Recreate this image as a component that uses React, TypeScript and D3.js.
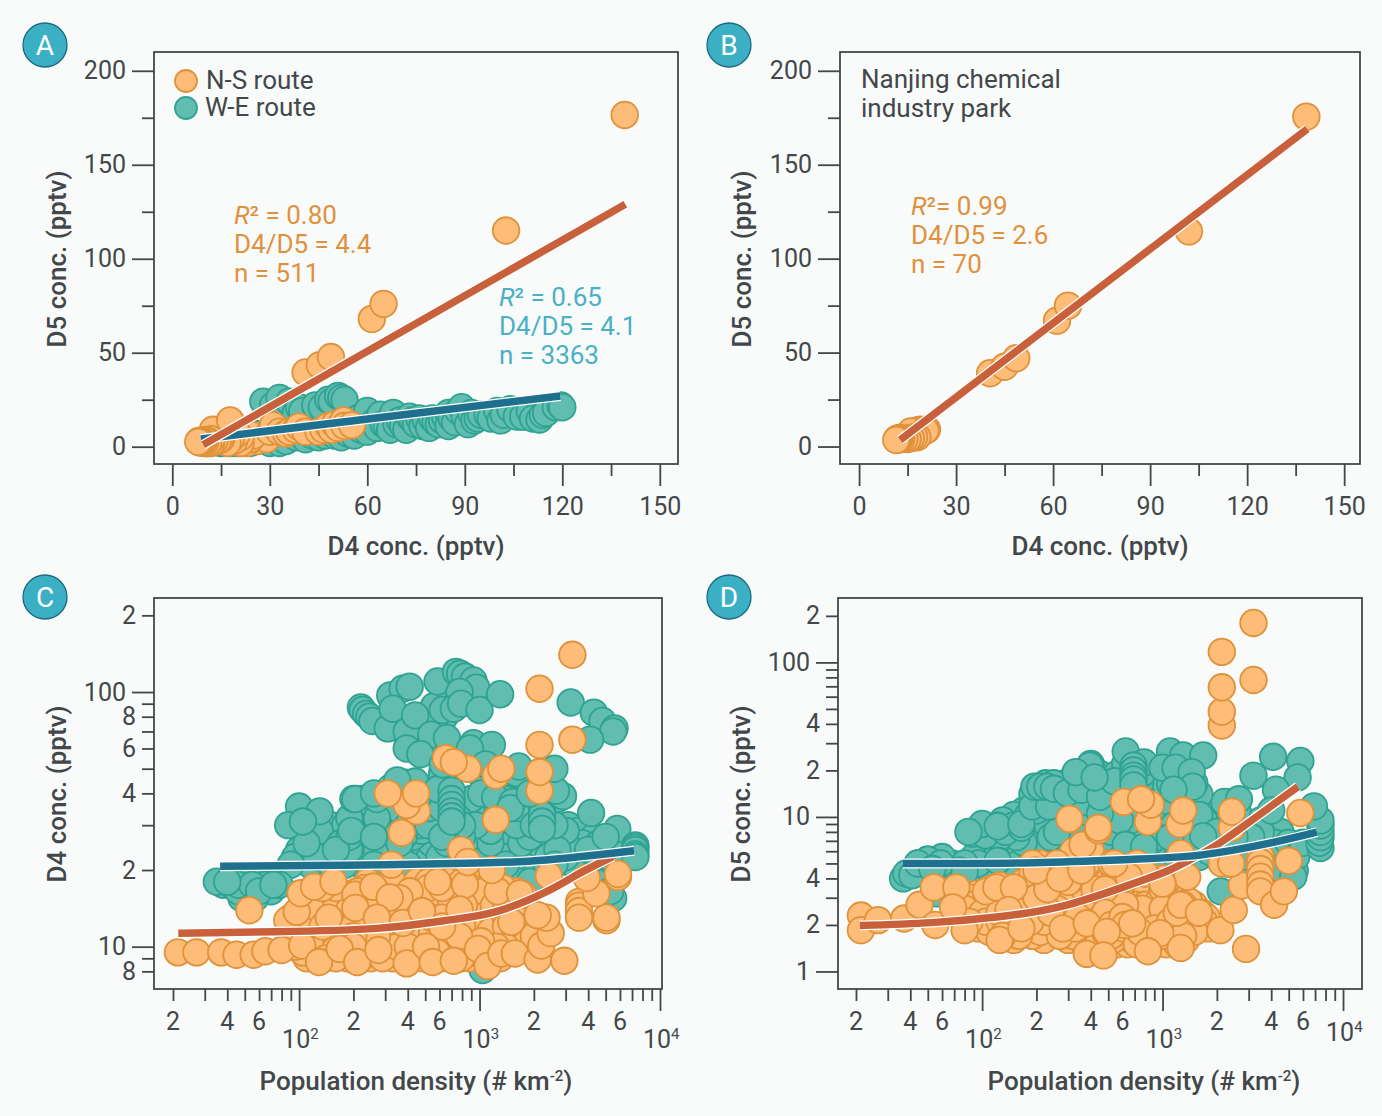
import { useEffect, useRef } from 'react';
import * as d3 from 'd3';

type Pt = [number, number];
type Row = [number, number[]];

// Panel A: D4 vs D5 (pptv)
const aTeal: Pt[] = [
  [9, 2.5], [10, 3], [11, 2], [12, 3], [13, 2.5], [14, 3.5], [15, 2], [16, 3], [18, 2], [18, 4], [20, 2], [20, 5],
  [22, 3], [23, 5], [24, 2], [25, 7], [26, 3], [27, 6], [28, 24], [29, 5], [30, 2], [30, 8], [31, 22], [32, 4],
  [33, 26], [33, 2], [34, 6], [35, 21], [35, 3], [36, 24], [37, 7], [38, 18], [38, 5], [39, 21], [40, 19], [40, 8],
  [41, 4], [42, 10], [43, 6], [44, 22], [45, 5], [46, 21], [47, 6], [48, 25], [49, 24], [50, 6], [51, 27], [52, 26],
  [52, 5], [53, 25], [54, 7], [55, 12], [56, 6], [57, 15], [58, 9], [60, 19], [60, 8], [62, 13], [63, 10], [64, 17],
  [65, 12], [66, 11], [67, 9], [68, 18], [69, 12], [70, 14], [71, 11], [72, 9], [73, 16], [74, 14], [75, 12], [76, 15], [77, 11], [78, 14], [79, 10],
  [80, 15], [81, 13], [82, 12], [83, 14], [84, 16], [85, 18], [85, 11], [86, 15], [87, 13], [88, 19], [89, 21], [90, 16], [91, 12], [92, 18], [93, 14], [94, 15],
  [95, 17], [97, 17], [98, 15], [100, 19], [101, 14], [102, 17], [104, 20], [106, 16], [108, 16], [110, 19], [111, 15], [113, 14.5], [114, 17], [115, 18], [118, 21], [119.5, 22], [120, 21],
];
const aOrange: Pt[] = [
  [26, 3], [27, 5], [29, 4], [22.9, 2], [24, 4], [25, 6], [21, 2], [21, 5], [19, 3], [20, 7], [18, 4], [17, 2], [16, 8], [15, 4], [15, 6], [14, 3], [14, 7],
  [13, 5], [13, 3], [12.5, 9], [12, 2], [12, 4], [11, 3], [11, 2], [10, 3.5], [10, 2], [9.5, 2.5], [9.2, 3], [9, 2.2], [8.8, 3], [8.5, 2.7], [8.5, 2.3], [8.2, 3], [8, 2.6],
  [17.8, 14], [30, 8], [31, 11.5], [33, 8], [35, 7], [36, 8], [38, 9], [39, 10.7], [41, 8], [45, 8], [46.5, 9], [48, 11], [49, 9],
  [50, 12], [51, 10], [52.7, 14], [53, 11], [55.3, 11.5], [41, 39.5], [45.4, 43.4], [48.8, 47.7], [61.4, 68], [65, 76], [102.7, 115], [139.2, 176.5],
];
const aFitTeal: Pt[] = [[8.8, 4.1], [119.4, 27]];
const aFitOrange: Pt[] = [[9.5, 1], [139.4, 129]];

// Panel B
const bOrange: Pt[] = [
  [21, 9], [20, 8], [19, 9], [18, 8.5], [16, 8], [20.5, 8.5], [18, 5], [17, 5], [16, 4.5], [15, 4], [14, 4.2], [13, 4], [12.5, 4.5], [12.2, 4.2], [12, 3.7], [11.7, 4], [11.5, 3.5],
  [40.5, 39], [45, 42.5], [48.6, 47], [61.2, 67], [64.6, 75], [102, 114.5], [138.3, 175.6],
];
const bFit: Pt[] = [[12.7, 3.5], [138.6, 169]];

// Panel C: population density vs D4 (pptv); rows are [conc, densities]
const cTealRows: Row[] = [
  [15.5, [48, 57, 5500]],
  [16.5, [46, 52, 60, 70, 5300]],
  [17.5, [38, 42, 46, 55, 65, 72, 78, 4900]],
  [18, [35, 40, 50, 60, 75, 1650, 1900, 4400]],
  [21, [90, 115, 150, 180, 220, 260, 300, 400, 500, 1400, 1700, 2100, 2600, 3300, 4200]],
  [22.5, [95, 125, 165, 205, 250, 300, 380, 470, 600, 800, 1100, 1350, 1600, 2400, 3000, 3800, 4500, 5200]],
  [24, [100, 130, 160, 190, 230, 270, 310, 360, 420, 500, 600, 720, 850, 1000, 1200, 1500, 1800, 2200, 2700, 3300, 4000, 4800, 5800]],
  [25.5, [110, 135, 145, 170, 180, 200, 215, 245, 285, 320, 360, 400, 540, 660, 760, 1150, 1400, 1700, 2100, 2500, 3000, 3700, 4600, 5400]],
  [27, [120, 150, 190, 220, 260, 300, 340, 380, 430, 480, 620, 720, 800, 900, 1050, 1250, 1500, 1900, 2300, 2800, 3400, 4300]],
  [28.5, [130, 165, 195, 205, 225, 250, 285, 320, 365, 480, 560, 680, 760, 980, 1150, 1350, 1750, 2450, 3000, 3500]],
  [30, [150, 180, 210, 240, 270, 300, 340, 400, 470, 520, 800, 850, 950, 1100, 1300, 1600, 2000, 2600, 3100]],
  [32, [190, 205, 220, 235, 250, 270, 290, 560, 640, 760, 880, 1000, 1200, 1400, 1650, 1850]],
  [35, [210, 240, 290, 350, 520, 620, 820, 900, 1050, 1300, 1600, 1800]],
  [38, [200, 225, 270, 330, 390, 470, 900, 1150, 1400, 1700, 2300, 2700]],
  [42, [320, 350, 380, 410, 620, 1100, 1300, 1850, 2500]],
  [48, [620, 650, 700, 1000, 1100, 1250, 1500, 1600]],
];
const cTealExtra: Pt[] = [
  [120, 13.5], [1040, 8.1],
  [100, 35.5], [130, 34], [87, 30], [105, 31], [205, 38], [260, 40], [385, 44], [440, 44.5], [350, 45], [585, 41.5],
  [700, 41], [700, 38], [700, 36], [700, 34], [700, 32.5], [700, 31], [1020, 40], [1220, 38.5], [1520, 37], [1480, 35],
  [2220, 35], [2220, 33.5], [2220, 33], [2220, 31], [2220, 29], [2900, 39], [2650, 41], [1900, 40], [4150, 33.5], [5800, 29], [5000, 27],
  [7300, 25], [7300, 24.5], [7300, 24], [7300, 23], [7300, 22.5],
  [560, 88], [640, 80], [680, 90], [760, 92], [820, 95], [880, 98], [930, 90], [400, 65], [440, 72], [500, 62], [560, 74],
  [220, 87], [225, 85], [235, 82], [245, 80], [255, 77], [310, 72], [320, 97], [375, 103], [410, 105], [330, 86], [395, 70], [440, 81],
  [540, 68], [625, 85], [585, 110], [740, 120], [780, 118], [830, 115], [925, 111], [960, 104], [775, 100], [720, 86], [790, 90], [1000, 85], [1300, 98],
  [395, 60], [470, 57], [660, 66], [925, 63], [1170, 62], [885, 60], [1080, 52], [625, 52], [1650, 51], [2600, 50],
  [3200, 91], [4300, 83], [4800, 77], [5600, 72], [5500, 70], [4100, 65],
];
const cOrangeRows: Row[] = [
  [18, [240, 330, 450, 520, 680, 800, 1000]],
  [17, [135, 160, 230, 300, 370, 440, 520, 620, 700, 900, 1100, 1350]],
  [16.5, [125, 210, 320, 410, 600, 760, 1050, 1300, 1600]],
  [16, [120, 150, 190, 240, 280, 340, 400, 480, 560, 640, 730, 820, 1000, 1200, 1450, 1750]],
  [15.5, [140, 205, 260, 360, 500, 690, 870, 1090, 1350]],
  [15, [130, 170, 220, 270, 330, 390, 460, 540, 650, 750, 900, 1000, 1150, 1400]],
  [14.5, [115, 180, 250, 310, 430, 520, 610, 820, 960, 1200, 1550]],
  [14, [110, 150, 190, 240, 300, 350, 420, 500, 580, 660, 760, 900, 1050, 1250, 1500]],
  [13.5, [100, 140, 210, 320, 440, 600, 730, 860, 1000, 1300, 1750]],
  [13, [90, 125, 170, 230, 280, 340, 400, 470, 540, 620, 700, 800, 920, 1050, 1200, 1400, 1650]],
  [12.5, [120, 150, 190, 260, 370, 510, 650, 770, 1100, 1500]],
  [12, [110, 135, 160, 200, 235, 275, 320, 360, 420, 480, 550, 620, 700, 800, 900, 1050, 1200, 1400, 1700, 2200]],
  [11.5, [95, 125, 180, 220, 300, 390, 500, 570, 740, 950, 1150, 1300, 1900]],
  [11, [100, 120, 145, 170, 200, 230, 270, 310, 360, 410, 470, 530, 600, 680, 770, 880, 1000, 1100, 1250, 1450, 1800, 2000]],
  [10.5, [90, 115, 155, 190, 245, 340, 430, 560, 640, 820, 1020, 1350, 1550]],
  [9.5, [105, 135, 170, 210, 280, 380, 460, 580, 720, 900, 1200]],
  [9, [110, 125, 140, 160, 185, 220, 250, 290, 330, 370, 420, 480, 540, 610, 690, 790, 880, 1000, 1150, 1300]],
  [10, [95, 110, 130, 150, 175, 200, 235, 265, 310, 350, 400, 450, 520, 590, 660, 750, 850, 950, 1080, 1240, 1400, 1650]],
];
const cOrangeExtra: Pt[] = [
  [21.3, 9.5], [27, 9.5], [37, 9.5], [45, 9.3], [56, 9.3], [65, 9.6], [80, 9.7], [104, 10.1], [129, 8.7], [168, 9.8], [210, 8.7], [275, 9.7],
  [395, 8.6], [505, 10], [550, 8.7], [720, 8.8], [980, 9.8], [1110, 8.4], [1320, 9.4], [1570, 9.4], [2100, 8.9], [2950, 8.8], [2200, 10.1], [2480, 11.3],
  [2350, 13], [2100, 13.3], [2420, 19], [3560, 15], [3560, 14.5], [3560, 13.8], [3560, 13], [5050, 12.7], [5050, 13], [5850, 18.8], [5850, 19.3], [4440, 16.2], [3930, 18.6],
  [53, 13.9], [86, 12.7], [97, 13.7], [102, 16.2], [121, 17.2], [155, 18], [146, 13], [205, 16], [205, 14.2], [258, 17.2], [318, 15.6], [270, 13], [375, 12.4],
  [480, 13.8], [585, 18], [830, 17.5], [775, 14], [1260, 16.5], [1675, 16.2], [325, 21], [790, 24], [860, 21.5], [1170, 20],
  [370, 28], [1230, 31.5], [450, 34], [395, 36], [310, 40], [445, 40], [650, 55], [860, 50], [720, 53], [1230, 47], [1320, 50],
  [2150, 41], [2150, 48.5], [2150, 62], [3270, 65], [2150, 103], [3270, 140],
];
const cFitTeal: Pt[] = [[36.5, 20.7], [175, 20.9], [981, 21.3], [2335, 21.9], [4420, 22.9], [7178, 23.8]];
const cFitOrange: Pt[] = [[21.4, 11.3], [73.6, 11.45], [270, 11.8], [636, 12.65], [1219, 13.7], [2335, 16.4], [3581, 19.4], [5495, 22.6]];

// Panel D: population density vs D5 (pptv)
const dTealRows: Row[] = [
  [4.5, [45, 55, 65, 75, 90, 110, 140, 3500, 4000, 4600, 5100, 5400]],
  [5, [44, 50, 58, 68, 80, 95, 115, 150, 190, 240, 290, 350, 480, 2300, 2800, 3300, 4800]],
  [5.5, [60, 90, 120, 160, 200, 250, 300, 400, 600, 900, 1200, 1600, 2000, 2600, 3000, 3500, 4300, 5000, 5500]],
  [6, [150, 190, 230, 280, 340, 420, 500, 700, 1000, 1400, 1800, 2400, 3200, 3900, 4700]],
  [6.8, [130, 170, 210, 260, 310, 370, 440, 520, 620, 720, 850, 1000, 1200, 1500, 1800, 2200, 2800, 3400, 4200, 5000, 6000]],
  [7.4, [125, 155, 190, 240, 290, 340, 400, 480, 570, 670, 780, 920, 1100, 1350, 1650, 2000, 2500, 3100]],
  [8, [110, 140, 170, 210, 260, 310, 370, 440, 520, 600, 700, 800, 900, 1050, 1200, 1400, 1700, 2000, 2400, 2900, 3500, 4500]],
  [8.8, [120, 150, 180, 230, 280, 330, 390, 460, 550, 640, 740, 880, 1000, 1150, 1300, 1550, 1900, 2300, 2700]],
  [9.5, [130, 160, 190, 220, 260, 300, 350, 420, 500, 580, 660, 760, 860, 980, 1100, 1250, 1450, 1700, 2100, 2500, 2800, 3500]],
  [10.3, [150, 180, 210, 250, 290, 340, 410, 470, 540, 630, 700, 790, 940, 1070, 1220, 1380, 1600, 2200, 2600]],
  [11, [170, 200, 240, 280, 330, 400, 480, 560, 640, 720, 800, 900, 1050, 1200, 1500, 1800, 2300, 2600]],
  [12.5, [210, 250, 280, 320, 360, 400, 480, 560, 760, 860, 950, 1100, 1250, 1400, 1600, 2200, 2450]],
  [14, [190, 215, 240, 270, 300, 340, 400, 470, 540, 620, 690, 760, 850, 1000, 1100, 1250, 1400, 1600]],
  [16.5, [225, 250, 290, 340, 420, 480, 560, 620, 690, 750, 1000, 1100, 1200, 1350, 1500]],
  [19, [330, 400, 450, 560, 620, 690, 770, 1000, 1100, 1250, 1400]],
  [22, [400, 620, 690, 1050, 1150, 1300]],
];
const dTealExtra: Pt[] = [
  [36.5, 4], [38, 4.3], [41, 4.2], [50, 5.3], [44, 5], [59, 5], [80, 4.4], [122, 5.2], [53, 4.6], [57, 3.2],
  [88, 7.8], [104, 7.6], [135, 8], [165, 8.5], [625, 6.6], [790, 6.4], [100, 9], [122, 8.7], [84, 8], [165, 9], [190, 11.7], [235, 11.7], [450, 10.5],
  [7500, 6.3], [7400, 6.8], [7500, 7.4], [7500, 8], [7500, 8.8], [7500, 9.5], [5300, 4.1], [2100, 3.3], [1680, 7.5], [6900, 11.7],
  [195, 15.7], [210, 15.7], [230, 15.7], [250, 15.2], [295, 14.3], [355, 15], [450, 13.5], [540, 17], [395, 21.5], [330, 19.5], [420, 18], [625, 26.5], [790, 22.5],
  [690, 21.5], [690, 20], [690, 18.5], [690, 17.5], [690, 16], [1100, 26.5], [1300, 25], [1680, 25], [1000, 20.8], [1180, 20.8], [1450, 19.5], [1470, 15.7], [1150, 15],
  [2650, 13], [3190, 18.5], [4100, 24.5], [5800, 23], [5600, 18], [4250, 15], [4000, 11],
];
const dOrangeRows: Row[] = [
  [6, [320, 400]],
  [5, [190, 210, 260, 380, 460, 520, 720]],
  [4.6, [210, 300, 420, 620, 760]],
  [4.3, [190, 220, 280, 340, 400, 480, 560, 700, 800]],
  [4, [180, 250, 320, 450, 540, 650, 850, 1000]],
  [3.8, [170, 200, 240, 300, 360, 430, 500, 600, 700, 800, 900, 1050]],
  [3.6, [125, 165, 215, 270, 390, 460, 580, 720, 950, 1100]],
  [3.4, [110, 150, 180, 230, 290, 360, 420, 480, 560, 640, 750, 860, 1000, 1150]],
  [3.2, [95, 135, 195, 260, 340, 400, 530, 620, 830, 1200]],
  [3, [85, 105, 130, 170, 200, 250, 310, 370, 430, 500, 590, 680, 780, 880, 1000, 1100, 1300]],
  [2.85, [110, 160, 220, 300, 450, 650, 740, 950, 1250, 1400]],
  [2.7, [90, 120, 150, 190, 230, 280, 330, 400, 470, 550, 620, 700, 800, 900, 1050, 1150, 1300, 1500]],
  [2.55, [80, 115, 175, 260, 380, 520, 600, 770, 1000, 1350]],
  [1.5, [370, 420, 490, 560, 640, 720, 800, 920, 1050, 1200]],
  [1.6, [150, 220, 300, 400, 530, 680, 850, 1100, 1350]],
  [1.7, [130, 160, 190, 230, 270, 320, 380, 440, 520, 600, 700, 790, 900, 1000, 1150, 1300]],
  [1.8, [110, 145, 210, 290, 350, 480, 640, 750, 950, 1250, 1500]],
  [1.9, [95, 115, 140, 170, 200, 240, 280, 330, 390, 460, 540, 610, 700, 800, 900, 1050, 1200, 1400, 1800]],
  [2, [100, 130, 180, 250, 360, 520, 620, 720, 880, 1130, 1550]],
  [2.1, [85, 105, 125, 150, 185, 220, 260, 310, 370, 430, 500, 580, 660, 750, 860, 980, 1100, 1250, 1450, 1600, 1700]],
  [2.25, [90, 135, 205, 340, 460, 600, 830, 1040, 1320, 1750]],
  [2.4, [75, 100, 125, 160, 200, 240, 290, 350, 410, 480, 560, 640, 720, 820, 950, 1080, 1200, 1400, 1650]],
];
const dOrangeExtra: Pt[] = [
  [21.3, 2.3], [21.3, 1.85], [26.5, 2.15], [37, 2.2], [45, 2.7], [54, 3.5], [55, 2], [80, 1.85], [72, 3.5], [69, 2.6],
  [105, 3.3], [120, 3.5], [150, 3.5], [140, 2.5], [125, 1.6], [165, 1.9], [200, 4.5], [270, 4], [355, 4.5], [360, 6.6], [440, 8.2],
  [380, 2.05], [490, 1.8], [680, 2.05], [970, 1.77], [1260, 2.7], [1590, 2.4], [1260, 1.42], [380, 1.3], [470, 1.27], [830, 1.35],
  [2090, 1.85], [2900, 1.4], [2480, 2.5], [2750, 3.6], [3480, 5.6], [3480, 5.1], [3480, 4.6], [3480, 4.1], [3480, 3.65], [3480, 3.3], [4150, 2.7], [4700, 3.3], [5000, 5.2],
  [2130, 5], [2400, 5], [1370, 4.1], [1260, 5.8], [1000, 3.7], [650, 4.1], [540, 5],
  [305, 9.7], [440, 8.5], [830, 9.3], [1240, 9], [610, 12.5], [860, 12], [760, 13], [1300, 11], [2420, 8.5], [2420, 10.8], [5800, 10.6],
  [2130, 39], [2130, 48], [2130, 69], [3190, 77], [2130, 117], [3190, 180],
];
const dFitTeal: Pt[] = [[36.4, 4.99], [191, 5.06], [695, 5.32], [1655, 5.68], [3917, 6.76], [7161, 7.96]];
const dFitOrange: Pt[] = [[21, 1.98], [52.4, 2.07], [124, 2.26], [294, 2.69], [695, 3.72], [1080, 4.5], [1520, 5.5], [2080, 6.8], [3150, 9.6], [5630, 15.7]];

const linTicksX = [0, 30, 60, 90, 120, 150];
const linMinorX = [15, 45, 75, 105, 135];
const linTicksY = [0, 50, 100, 150, 200];
const linMinorY = [25, 75, 125, 175];
const logTicksX = [100, 1000, 10000];
const logMinorX = [20, 30, 40, 50, 60, 70, 80, 90, 200, 300, 400, 500, 600, 700, 800, 900, 2000, 3000, 4000, 5000, 6000, 7000, 8000, 9000];
const logLabelX = [20, 40, 60, 200, 400, 600, 2000, 4000, 6000];

const INK = '#43474a';
const FONT = 'Roboto, sans-serif';
const TEAL = { fill: '#62bdb1', stroke: '#2fa391' };
const ORANGE = { fill: '#fdbc78', stroke: '#e0923a' };
const FIT_TEAL = '#1f6f8e';
const FIT_ORANGE = '#c8613b';

// rows are drawn in a mixed order so no straight bands show up in the overlap
const flatten = (rows: Row[], extra: Pt[]): Pt[] => [
  ...rows
    .flatMap(([c, ds]) => ds.map((d) => [d, c] as Pt))
    .sort((a, b) => (Math.log10(a[0]) * 53 + a[1] * 7) % 1 - (Math.log10(b[0]) * 53 + b[1] * 7) % 1),
  ...extra,
];

type Sel = d3.Selection<SVGGElement, unknown, null, undefined>;

function addText(g: Sel, x: number, y: number, str: string, opts: { size?: number; weight?: number; fill?: string; anchor?: string } = {}) {
  return g.append('text')
    .attr('x', x).attr('y', y)
    .attr('font-family', FONT)
    .attr('font-size', opts.size ?? 26)
    .attr('font-weight', opts.weight ?? 400)
    .attr('fill', opts.fill ?? INK)
    .attr('text-anchor', opts.anchor ?? 'start')
    .text(str);
}

function addStat(g: Sel, x: number, y: number, rest: string, fill: string) {
  const t = addText(g, x, y, '', { fill });
  t.append('tspan').attr('font-style', 'italic').text('R');
  t.append('tspan').text(rest);
}

function drawDots(g: Sel, pts: Pt[], x: any, y: any, col: { fill: string; stroke: string }) {
  g.append('g').selectAll('circle').data(pts).join('circle')
    .attr('cx', (d) => x(d[0]))
    .attr('cy', (d) => y(d[1]))
    .attr('r', 13.3)
    .attr('fill', col.fill)
    .attr('stroke', col.stroke)
    .attr('stroke-width', 1.8);
}

function drawFit(g: Sel, pts: Pt[], x: any, y: any, color: string) {
  const line = d3.line<Pt>().x((d) => x(d[0])).y((d) => y(d[1])).curve(d3.curveNatural);
  g.append('path').attr('d', line(pts)).attr('fill', 'none').attr('stroke', '#fff').attr('stroke-width', 10);
  g.append('path').attr('d', line(pts)).attr('fill', 'none').attr('stroke', color).attr('stroke-width', 7.5);
}

function drawFrame(g: Sel, x: any, y: any) {
  const [x0, x1] = x.range();
  const [y0, y1] = y.range();
  g.append('rect')
    .attr('x', x0).attr('y', y1)
    .attr('width', x1 - x0).attr('height', y0 - y1)
    .attr('fill', 'none').attr('stroke', INK).attr('stroke-width', 1.8);
}

function tickAxis(g: Sel, axis: any, tx: number, ty: number) {
  const a = g.append('g').attr('transform', `translate(${tx},${ty})`).call(axis);
  a.select('.domain').remove();
  a.selectAll('.tick line').attr('stroke', INK).attr('stroke-width', 1.8);
  a.selectAll('.tick text').attr('font-family', FONT).attr('font-size', 25).attr('fill', INK);
}

function linearAxes(g: Sel, x: any, y: any) {
  const [x0] = x.range();
  const [y0] = y.range();
  tickAxis(g, d3.axisBottom(x).tickValues(linTicksX).tickSize(22).tickPadding(11).tickFormat((d: any) => `${d}`), 0, y0);
  tickAxis(g, d3.axisBottom(x).tickValues(linMinorX).tickSize(12).tickFormat(() => ''), 0, y0);
  tickAxis(g, d3.axisLeft(y).tickValues(linTicksY).tickSize(22).tickPadding(6).tickFormat((d: any) => `${d}`), x0, 0);
  tickAxis(g, d3.axisLeft(y).tickValues(linMinorY).tickSize(12).tickFormat(() => ''), x0, 0);
}

function logAxes(g: Sel, x: any, y: any, majorY: number[], minorY: number[], labelY: number[], lastBase: number) {
  const [x0] = x.range();
  const [y0] = y.range();
  tickAxis(g, d3.axisBottom(x).tickValues(logTicksX).tickSize(22).tickFormat(() => ''), 0, y0);
  tickAxis(g, d3.axisBottom(x).tickValues(logMinorX).tickSize(12).tickFormat(() => ''), 0, y0);
  logLabelX.forEach((d) => addText(g, x(d), 1030, `${+`${d}`[0]}`, { anchor: 'middle', size: 25 }));
  logTicksX.forEach((d, i) => {
    const t = addText(g, x(d) - 17, i === 2 ? lastBase : 1048, '10', { size: 25 });
    t.append('tspan').attr('font-size', 15).attr('dy', -9).text(`${i + 2}`);
  });
  tickAxis(g, d3.axisLeft(y).tickValues(majorY).tickSize(22).tickPadding(6).tickFormat((d: any) => `${d}`), x0, 0);
  tickAxis(g, d3.axisLeft(y).tickValues(minorY).tickSize(12).tickPadding(6).tickFormat((d: any) => (labelY.includes(d) ? `${+`${d}`[0]}` : '')), x0, 0);
}

function axisTitles(g: Sel, xCentre: number, xBase: number, yBase: number, yCentre: number, xTitle: string, yTitle: string, sup?: string) {
  const t = addText(g, xCentre, xBase, xTitle, { weight: 500, anchor: 'middle' });
  if (sup) {
    t.append('tspan').attr('font-size', 15).attr('dy', -9).text(sup);
    t.append('tspan').attr('dy', 9).text(')');
  }
  addText(g, 0, 0, yTitle, { weight: 500, anchor: 'middle' })
    .attr('transform', `translate(${yBase},${yCentre}) rotate(-90)`);
}

function badge(g: Sel, cx: number, cy: number, letter: string) {
  g.append('circle').attr('cx', cx).attr('cy', cy).attr('r', 22)
    .attr('fill', '#3bb0c5').attr('stroke', '#1c6a7e').attr('stroke-width', 1.3);
  addText(g, cx, cy + 10, letter, { size: 28, fill: '#fff', anchor: 'middle' });
}

export default function App() {
  const svgRef = useRef<SVGSVGElement>(null);

  useEffect(() => {
    if (!svgRef.current) return;
    const svg = d3.select(svgRef.current);
    svg.selectAll('*').remove();
    const root = svg.append('g') as unknown as Sel;

    // A
    const ax = d3.scaleLinear().domain([-5.63, 155.6]).range([154, 678]);
    const ay = d3.scaleLinear().domain([-9.2, 210]).range([464, 52]);
    drawDots(root, aTeal, ax, ay, TEAL);
    drawDots(root, aOrange, ax, ay, ORANGE);
    drawFit(root, aFitTeal, ax, ay, FIT_TEAL);
    drawFit(root, aFitOrange, ax, ay, FIT_ORANGE);
    drawFrame(root, ax, ay);
    linearAxes(root, ax, ay);
    axisTitles(root, 416, 555, 66, 259, 'D4 conc. (pptv)', 'D5 conc. (pptv)');
    badge(root, 45, 45, 'A');
    root.append('circle').attr('cx', 186).attr('cy', 81).attr('r', 11).attr('fill', ORANGE.fill).attr('stroke', ORANGE.stroke).attr('stroke-width', 1.8);
    root.append('circle').attr('cx', 186).attr('cy', 108).attr('r', 11).attr('fill', TEAL.fill).attr('stroke', TEAL.stroke).attr('stroke-width', 1.8);
    addText(root, 206, 89, 'N-S route');
    addText(root, 205, 116, 'W-E route');
    addStat(root, 234, 224, '² = 0.80', '#e0913e');
    addText(root, 234, 253, 'D4/D5 = 4.4', { fill: '#e0913e' });
    addText(root, 234, 282, 'n = 511', { fill: '#e0913e' });
    addStat(root, 499, 306, '² = 0.65', '#4ab0c6');
    addText(root, 499, 335, 'D4/D5 = 4.1', { fill: '#4ab0c6' });
    addText(root, 499, 364, 'n = 3363', { fill: '#4ab0c6' });

    // B
    const bx = d3.scaleLinear().domain([-5.9, 154.9]).range([840, 1360]);
    const by = d3.scaleLinear().domain([-9.3, 210]).range([464, 52]);
    drawDots(root, bOrange, bx, by, ORANGE);
    drawFit(root, bFit, bx, by, FIT_ORANGE);
    drawFrame(root, bx, by);
    linearAxes(root, bx, by);
    axisTitles(root, 1100, 555, 751, 259, 'D4 conc. (pptv)', 'D5 conc. (pptv)');
    badge(root, 729, 45, 'B');
    addText(root, 861, 88, 'Nanjing chemical');
    addText(root, 861, 117, 'industry park');
    addStat(root, 911, 215, '²= 0.99', '#e0913e');
    addText(root, 911, 244, 'D4/D5 = 2.6', { fill: '#e0913e' });
    addText(root, 911, 273, 'n = 70', { fill: '#e0913e' });

    // C
    const cx = d3.scaleLog().domain([15.7, 10260]).range([154, 662]);
    const cy = d3.scaleLog().domain([6.82, 234]).range([989, 598]);
    drawDots(root, flatten(cTealRows, cTealExtra), cx, cy, TEAL);
    drawDots(root, flatten(cOrangeRows, cOrangeExtra), cx, cy, ORANGE);
    drawFit(root, cFitOrange, cx, cy, FIT_ORANGE);
    drawFit(root, cFitTeal, cx, cy, FIT_TEAL);
    drawFrame(root, cx, cy);
    logAxes(root, cx, cy, [10, 100], [8, 9, 20, 30, 40, 50, 60, 70, 80, 90, 200], [8, 20, 40, 60, 80, 200], 1048);
    axisTitles(root, 416, 1090, 66, 794, 'Population density (# km', 'D4 conc. (pptv)', '-2');
    badge(root, 45, 597, 'C');

    // D
    const dx = d3.scaleLog().domain([15.9, 12740]).range([838, 1362]);
    const dy = d3.scaleLog().domain([0.77, 261]).range([989, 598]);
    drawDots(root, flatten(dTealRows, dTealExtra), dx, dy, TEAL);
    drawDots(root, flatten(dOrangeRows, dOrangeExtra), dx, dy, ORANGE);
    drawFit(root, dFitOrange, dx, dy, FIT_ORANGE);
    drawFit(root, dFitTeal, dx, dy, FIT_TEAL);
    drawFrame(root, dx, dy);
    logAxes(root, dx, dy, [1, 10, 100], [2, 3, 4, 5, 6, 7, 8, 9, 20, 30, 40, 50, 60, 70, 80, 90, 200], [2, 4, 20, 40, 200], 1041);
    axisTitles(root, 1144, 1090, 750, 794, 'Population density (# km', 'D5 conc. (pptv)', '-2');
    badge(root, 729, 597, 'D');
  }, []);

  return (
    <svg
      ref={svgRef}
      width={1382}
      height={1116}
      style={{ position: 'absolute', left: 0, top: 0, background: '#f8fbfa' }}
    />
  );
}
